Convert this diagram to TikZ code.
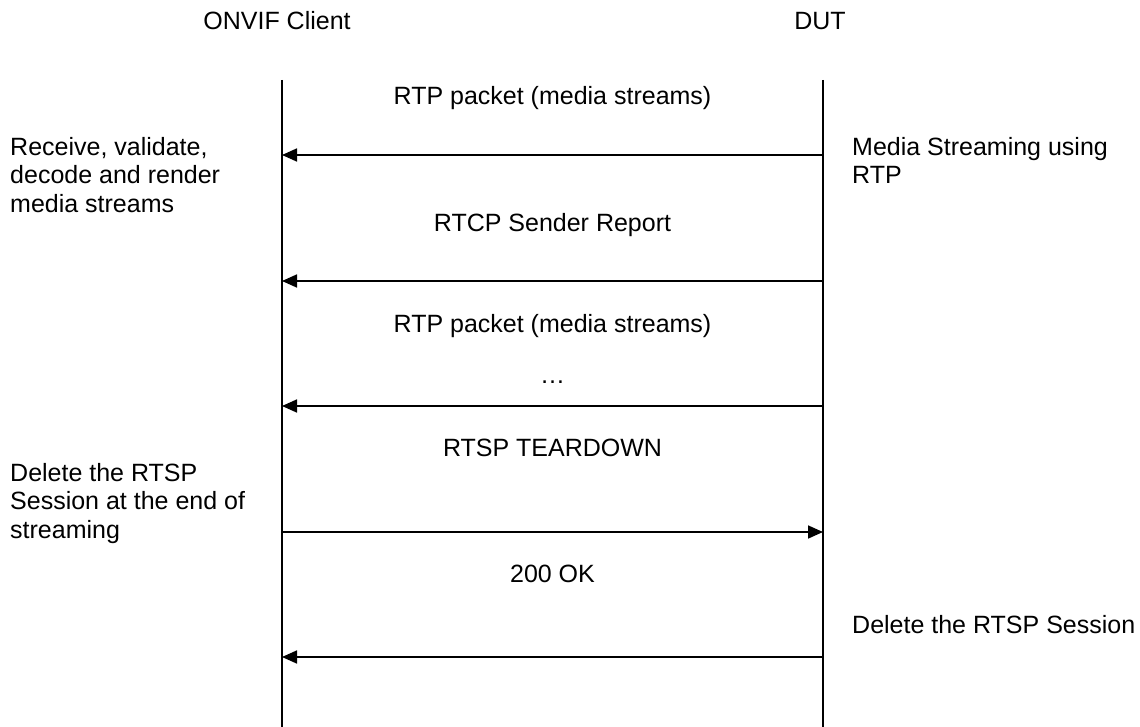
\documentclass[tikz,border=0pt]{standalone}
\usepackage{fontspec}
\setmainfont{Liberation Sans}
\usetikzlibrary{arrows.meta}
\begin{document}
\begin{tikzpicture}[x=1pt,y=-1pt,
  lifeline/.style={line width=1.2pt, draw=black},
  msg/.style={line width=1.7pt, draw=black, -{Triangle[length=15pt,width=13pt]}},
  lbl/.style={inner sep=0pt, anchor=base, font=\fontsize{25}{28.5}\selectfont},
  note/.style={inner sep=0pt, anchor=north west, align=left, font=\fontsize{25}{28.5}\selectfont},
  noteb/.style={inner sep=0pt, anchor=base west, font=\fontsize{25}{28.5}\selectfont}]
\useasboundingbox (0,0) rectangle (1140,727);

% headers
\node[lbl] (hclient) at (277,30) {ONVIF Client};
\node[lbl] (hdut) at (820,30) {DUT};

% lifelines
\coordinate (ltop) at (282,80);
\coordinate (lbot) at (282,727);
\coordinate (rtop) at (823,80);
\coordinate (rbot) at (823,727);
\draw[lifeline] (ltop) -- (lbot);
\draw[lifeline] (rtop) -- (rbot);

% message anchors
\foreach \i/\y in {1/155,2/281,3/406,4/532,5/657}{
  \coordinate (l\i) at (282,\y);
  \coordinate (r\i) at (823,\y);
}

% messages
\node[lbl] (m1) at (552.5,105) {RTP packet (media streams)};
\draw[msg] (r1) -- (l1);
\node[lbl] (m2) at (552.5,232) {RTCP Sender Report};
\draw[msg] (r2) -- (l2);
\node[lbl] (m3) at (552.5,332) {RTP packet (media streams)};
\node[lbl] (m3b) at (552.5,383) {…};
\draw[msg] (r3) -- (l3);
\node[lbl] (m4) at (552.5,456) {RTSP TEARDOWN};
\draw[msg] (l4) -- (r4);
\node[lbl] (m5) at (552.5,582) {200 OK};
\draw[msg] (r5) -- (l5);

% side notes
\node[note] (n1) at (10,137) {Receive, validate,\\decode and render\\media streams};
\node[note] (n2) at (852,137) {Media Streaming using\\RTP};
\node[note] (n3) at (10,463) {Delete the RTSP\\Session at the end of\\streaming};
\node[noteb] (n4) at (852,633) {Delete the RTSP Session};
\end{tikzpicture}
\end{document}
